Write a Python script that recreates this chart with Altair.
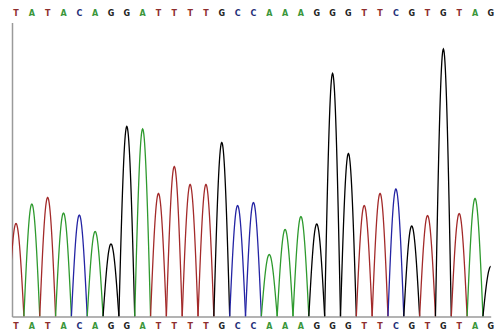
import altair as alt
import numpy as np
import pandas as pd

bases = list("TATACAGGATTTTGCCAAAGGGTTCGTGTAG")
heights = [93, 112.5, 119, 103.5, 101.5, 85, 72.5, 190, 187.5, 123,
           150, 132, 132, 174, 111, 114, 62, 87, 100, 92.5,
           243, 163, 111, 123, 127.5, 90.5, 101, 267.5, 103, 118, 50]

trace_colors = {"A": "#2e9a2e", "C": "#2424a4", "G": "#000000", "T": "#a32a2a"}
label_colors = {"A": "#3a963a", "C": "#1f2f78", "G": "#222222", "T": "#8e2e2e"}

rows = []
for i, (b, h) in enumerate(zip(bases, heights)):
    for t in np.linspace(-0.5, 0.5, 41):
        rows.append({"peak": i, "base": b, "pos": i + t,
                     "signal": h * np.cos(np.pi * t), "color": trace_colors[b]})
trace = pd.DataFrame(rows)
labels = pd.DataFrame({"pos": list(range(len(bases))), "base": bases,
                       "color": [label_colors[b] for b in bases]})

xscale = alt.Scale(domain=[-0.253, 29.99], nice=False, zero=False)
yscale = alt.Scale(domain=[0, 294], nice=False)

lines = alt.Chart(trace).mark_line(clip=True, strokeWidth=1.3).encode(
    x=alt.X("pos:Q", scale=xscale,
            axis=alt.Axis(title=None, labels=False, ticks=False, grid=False,
                          domainColor="#9a9a9a", domainWidth=1.5)),
    y=alt.Y("signal:Q", scale=yscale,
            axis=alt.Axis(title=None, labels=False, ticks=False, grid=False,
                          domainColor="#9a9a9a", domainWidth=1.5)),
    color=alt.Color("color:N", scale=None),
    detail="peak:N",
)

top = alt.Chart(labels).mark_text(font="DejaVu Sans", fontWeight="bold",
                                  fontSize=8, baseline="middle").encode(
    x=alt.X("pos:Q", scale=xscale),
    y=alt.value(-9),
    text="base:N",
    color=alt.Color("color:N", scale=None),
)
bottom = alt.Chart(labels).mark_text(font="DejaVu Sans", fontWeight="bold",
                                     fontSize=8, baseline="middle").encode(
    x=alt.X("pos:Q", scale=xscale),
    y=alt.value(304),
    text="base:N",
    color=alt.Color("color:N", scale=None),
)

chart = alt.layer(lines, top, bottom).properties(
    width=478.7, height=294,
    autosize=alt.AutoSizeParams(type="none"),
    padding={"left": 12, "top": 22.5, "right": 13.3, "bottom": 19.5},
    background="white",
).configure_view(stroke=None)

chart.save("out.html", embed_options={"renderer": "svg", "actions": False})
